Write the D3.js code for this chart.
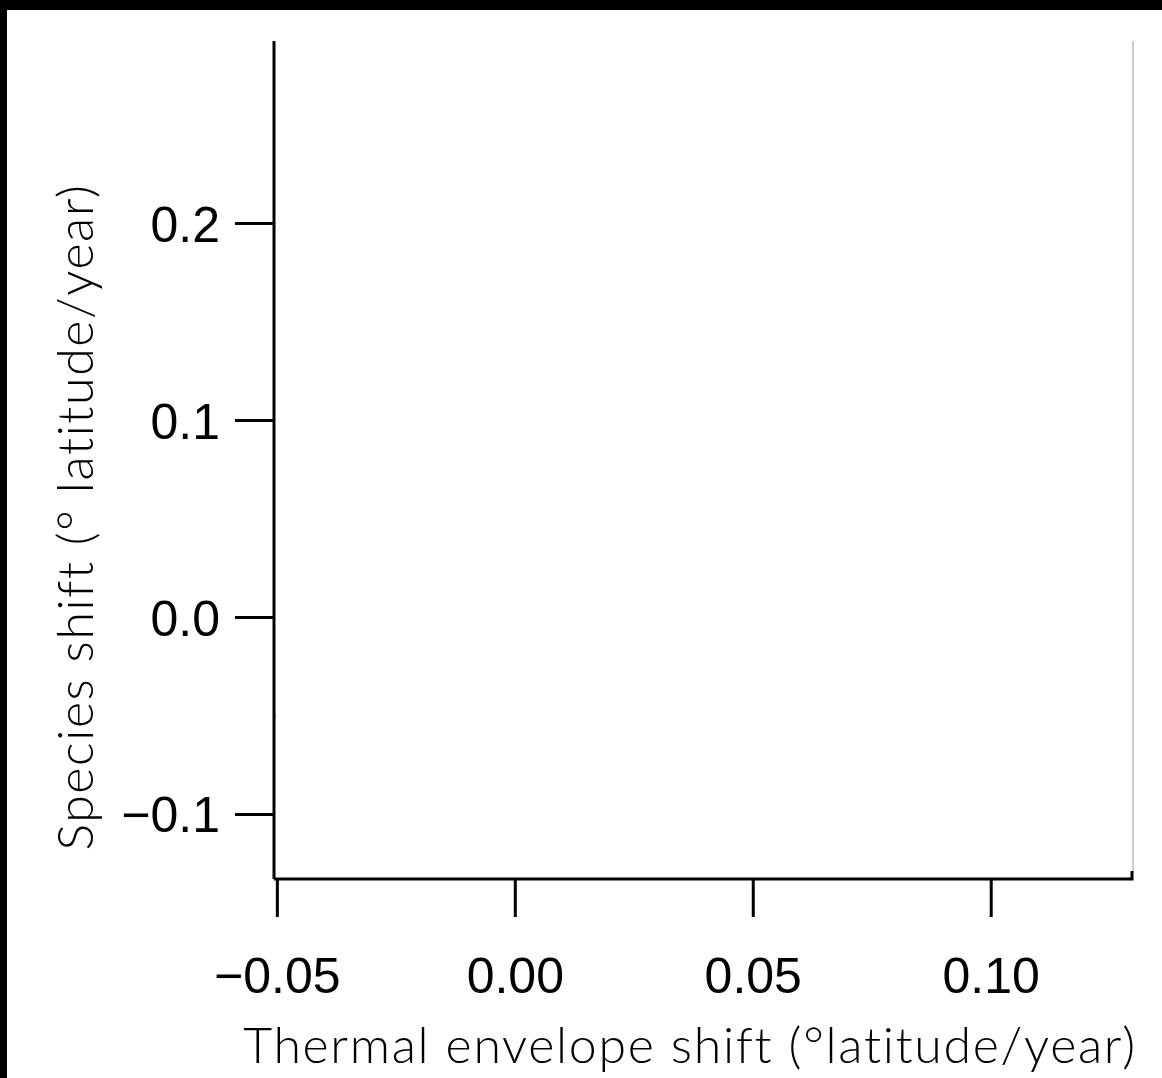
<!DOCTYPE html>
<html><head><meta charset="utf-8">
<script src="https://cdn.jsdelivr.net/npm/d3@7"></script>
<style>
html,body{margin:0;padding:0;background:#fff;}
svg{display:block;}
</style></head>
<body>
<script>
const xTicks = [-0.05, 0.00, 0.05, 0.10];
const xTickLabels = ["\u22120.05", "0.00", "0.05", "0.10"];
const yTicks = [-0.1, 0.0, 0.1, 0.2];
const yTickLabels = ["\u22120.1", "0.0", "0.1", "0.2"];
const xDomain = [-0.0506, 0.1299];
const yDomain = [-0.133, 0.2924];
const pointX = [-0.0509];
const pointY = [-0.05];
const xTitle = "Thermal envelope shift (\u00B0latitude/year)";
const yTitle = "Species shift (\u00B0 latitude/year)";

const W = 1162, H = 1078;
const L = 274, R = 1133, T = 41, B = 879;
const svg = d3.select("body").append("svg").attr("width", W).attr("height", H);
svg.append("rect").attr("width", W).attr("height", H).attr("fill", "#fff");
svg.append("rect").attr("x", 0).attr("y", 0).attr("width", W).attr("height", 10).attr("fill", "#000");
svg.append("rect").attr("x", 0).attr("y", 0).attr("width", 7).attr("height", H).attr("fill", "#000");

const x = d3.scaleLinear().domain(xDomain).range([L, R]);
const y = d3.scaleLinear().domain(yDomain).range([B, T]);

// clip for points
svg.append("clipPath").attr("id", "clip").append("rect")
  .attr("x", L).attr("y", T).attr("width", R - L).attr("height", B - T);
svg.append("g").attr("clip-path", "url(#clip)")
  .selectAll("circle").data(pointX.map((d, i) => [d, pointY[i]])).enter()
  .append("circle").attr("cx", d => x(d[0])).attr("cy", d => y(d[1])).attr("r", 3)
  .attr("fill", "#e8262b");

// right gray border
svg.append("line").attr("x1", R).attr("x2", R).attr("y1", T).attr("y2", B - 6)
  .attr("stroke", "#bdbdbd").attr("stroke-width", 1.5);

const tickFont = "'Liberation Sans', Arial, sans-serif";
const titleFont = "'URW Gothic', 'Century Gothic', 'Lato', 'Open Sans', sans-serif";

// x axis
const xAxis = d3.axisBottom(x).tickValues(xTicks).tickSize(38).tickPadding(0)
  .tickFormat((d, i) => xTickLabels[i]);
const gx = svg.append("g").attr("transform", `translate(0,${B})`).call(xAxis);
gx.select(".domain").attr("d", `M${L},0H${R - 1}V-8`).attr("stroke", "#000").attr("stroke-width", 3).attr("fill", "none");
gx.selectAll(".tick line").attr("stroke", "#000").attr("stroke-width", 3);
gx.selectAll(".tick text").attr("font-family", tickFont).attr("font-size", 50).attr("fill", "#000")
  .attr("y", 993 - B).attr("dy", null);

// y axis
const yAxis = d3.axisLeft(y).tickValues(yTicks).tickSize(39).tickPadding(15)
  .tickFormat((d, i) => yTickLabels[i]);
const gy = svg.append("g").attr("transform", `translate(${L},0)`).call(yAxis);
gy.select(".domain").attr("d", `M0,${T}V${B}`).attr("stroke", "#000").attr("stroke-width", 3).attr("fill", "none");
gy.selectAll(".tick line").attr("stroke", "#000").attr("stroke-width", 3);
gy.selectAll(".tick text").attr("font-family", tickFont).attr("font-size", 50).attr("fill", "#000")
  .attr("dy", "0.36em");

// titles
svg.append("text").attr("x", 690).attr("y", 1063).attr("text-anchor", "middle")
  .attr("font-family", titleFont).attr("font-size", 50).attr("font-weight", 300).attr("fill", "#000")
  .attr("letter-spacing", 1.7)
  .text(xTitle);
svg.append("text").attr("transform", "translate(93,517) rotate(-90)").attr("text-anchor", "middle")
  .attr("font-family", titleFont).attr("font-size", 50).attr("font-weight", 300).attr("fill", "#000")
  .attr("letter-spacing", 1.6)
  .text(yTitle);
</script>
</body></html>
